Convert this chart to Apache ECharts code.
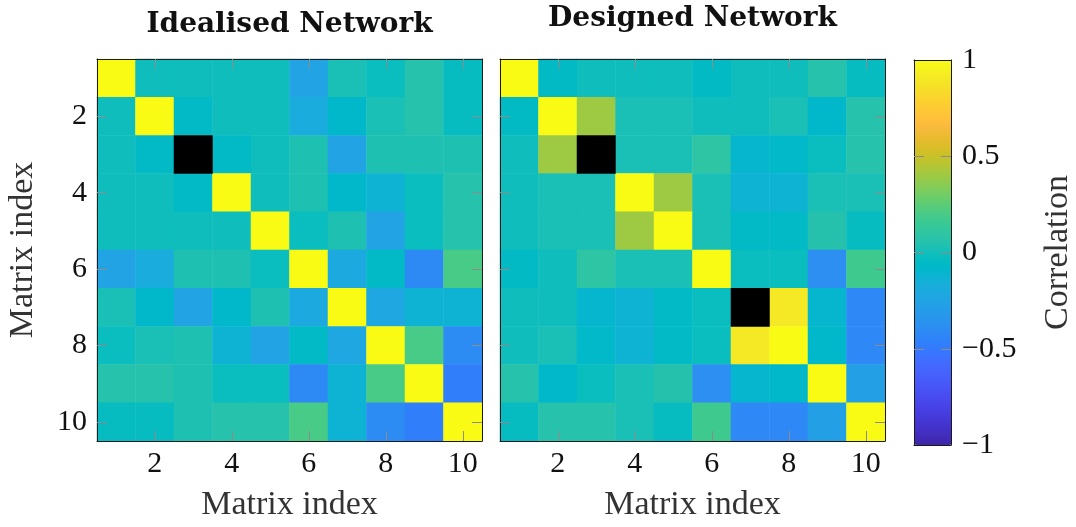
<!DOCTYPE html>
<html>
<head>
<meta charset="utf-8">
<script src="https://cdn.jsdelivr.net/npm/echarts@6/dist/echarts.min.js"></script>
<style>
  html, body { margin: 0; padding: 0; background: #ffffff; }
  #chart { width: 1076px; height: 527px; }
</style>
</head>
<body>
<div id="chart"></div>
<script>
// Matrix indices (1..10) along both axes; only the even ones carry labels.
const indices = ['1', '2', '3', '4', '5', '6', '7', '8', '9', '10'];
const labelledIndices = ['2', '4', '6', '8', '10'];

// Correlation matrices, row by row (row 1 at the top). null marks an undefined entry.
const idealised = [
  [ 1.00, -0.01, -0.01, -0.01, -0.01, -0.25,  0.02, -0.02,  0.06, -0.03],
  [-0.01,  1.00, -0.06, -0.01, -0.01, -0.18, -0.08,  0.02,  0.06, -0.03],
  [-0.01, -0.06,  null, -0.06, -0.01,  0.03, -0.25,  0.03,  0.03,  0.03],
  [-0.01, -0.01, -0.06,  1.00, -0.01,  0.03, -0.08, -0.13, -0.02,  0.06],
  [-0.01, -0.01, -0.01, -0.01,  1.00, -0.02,  0.03, -0.25, -0.02,  0.06],
  [-0.25, -0.18,  0.03,  0.03, -0.02,  1.00, -0.21, -0.06, -0.41,  0.20],
  [ 0.02, -0.08, -0.25, -0.08,  0.03, -0.21,  1.00, -0.22, -0.13, -0.13],
  [-0.02,  0.02,  0.03, -0.13, -0.25, -0.06, -0.22,  1.00,  0.20, -0.40],
  [ 0.06,  0.06,  0.03, -0.02, -0.02, -0.41, -0.13,  0.20,  1.00, -0.48],
  [-0.03, -0.03,  0.03,  0.06,  0.06,  0.20, -0.13, -0.40, -0.48,  1.00]
];

const designed = [
  [ 1.00, -0.05, -0.01, -0.01, -0.01, -0.05, -0.01, -0.01,  0.06, -0.03],
  [-0.05,  1.00,  0.40,  0.02,  0.02, -0.01, -0.01,  0.02, -0.08,  0.06],
  [-0.01,  0.40,  null,  0.02,  0.02,  0.09, -0.10, -0.07, -0.02,  0.06],
  [-0.01,  0.02,  0.02,  1.00,  0.40,  0.02, -0.13, -0.13,  0.02,  0.02],
  [-0.01,  0.02,  0.02,  0.40,  1.00,  0.02, -0.06, -0.06,  0.05, -0.03],
  [-0.05, -0.01,  0.09,  0.02,  0.02,  1.00, -0.02, -0.02, -0.38,  0.17],
  [-0.01, -0.01, -0.10, -0.13, -0.06, -0.02,  null,  0.90, -0.10, -0.42],
  [-0.01,  0.02, -0.07, -0.13, -0.06, -0.02,  0.90,  1.00, -0.08, -0.42],
  [ 0.06, -0.08, -0.02,  0.02,  0.05, -0.38, -0.10, -0.08,  1.00, -0.27],
  [-0.03,  0.06,  0.06,  0.02, -0.03,  0.17, -0.42, -0.42, -0.27,  1.00]
];

const titles = ['Idealised Network', 'Designed Network'];
const axisName = 'Matrix index';
const colorbarName = 'Correlation';
const colorbarTicks = [-1, -0.5, 0, 0.5, 1];

// Parula colour map (64 entries, low to high).
const parula = [
  [0.2422,0.1504,0.6603],[0.2504,0.1650,0.7076],[0.2578,0.1818,0.7511],[0.2647,0.1978,0.7952],
  [0.2706,0.2147,0.8364],[0.2751,0.2342,0.8710],[0.2783,0.2559,0.8991],[0.2803,0.2782,0.9221],
  [0.2813,0.3006,0.9414],[0.2810,0.3228,0.9579],[0.2795,0.3447,0.9717],[0.2760,0.3667,0.9829],
  [0.2699,0.3892,0.9906],[0.2602,0.4123,0.9952],[0.2440,0.4358,0.9988],[0.2206,0.4603,0.9973],
  [0.1963,0.4847,0.9892],[0.1834,0.5074,0.9798],[0.1786,0.5289,0.9682],[0.1764,0.5499,0.9520],
  [0.1687,0.5703,0.9359],[0.1540,0.5902,0.9218],[0.1460,0.6091,0.9079],[0.1380,0.6276,0.8973],
  [0.1248,0.6459,0.8883],[0.1113,0.6635,0.8763],[0.0952,0.6798,0.8598],[0.0689,0.6948,0.8394],
  [0.0297,0.7082,0.8163],[0.0036,0.7203,0.7917],[0.0067,0.7312,0.7660],[0.0433,0.7411,0.7394],
  [0.0964,0.7500,0.7120],[0.1408,0.7584,0.6842],[0.1717,0.7670,0.6554],[0.1938,0.7758,0.6251],
  [0.2161,0.7843,0.5923],[0.2470,0.7918,0.5567],[0.2906,0.7973,0.5188],[0.3406,0.8008,0.4789],
  [0.3909,0.8029,0.4354],[0.4456,0.8024,0.3909],[0.5044,0.7993,0.3480],[0.5616,0.7942,0.3045],
  [0.6174,0.7876,0.2612],[0.6720,0.7793,0.2227],[0.7242,0.7698,0.1910],[0.7738,0.7598,0.1646],
  [0.8203,0.7498,0.1535],[0.8634,0.7406,0.1596],[0.9035,0.7330,0.1774],[0.9393,0.7288,0.2100],
  [0.9728,0.7298,0.2394],[0.9956,0.7434,0.2371],[0.9970,0.7659,0.2199],[0.9952,0.7893,0.2028],
  [0.9892,0.8136,0.1885],[0.9786,0.8386,0.1766],[0.9676,0.8639,0.1643],[0.9610,0.8890,0.1537],
  [0.9597,0.9135,0.1423],[0.9628,0.9373,0.1265],[0.9691,0.9606,0.1064],[0.9769,0.9839,0.0805]
];
const parulaColors = parula.map(c =>
  'rgb(' + c.map(v => Math.round(v * 255)).join(',') + ')');

// Split a matrix into [x, y, value] cells plus the undefined cells.
function toCells(matrix) {
  const cells = [], missing = [];
  matrix.forEach((row, r) => row.forEach((v, c) => {
    if (v === null) missing.push([c, r, 0]);
    else cells.push([c, r, v]);
  }));
  return { cells, missing };
}

const serif = 'Liberation Serif';
const tickStyle = { color: '#8c8c8c', width: 1 };
const frameStyle = { color: '#1a1a1a', width: 1 };
const evenOnly = (i) => labelledIndices.indexOf(indices[i]) >= 0;

const grids = [
  { left: 97, top: 59, width: 385, height: 386 },
  { left: 500, top: 59, width: 385, height: 386 },
  { left: 914, top: 60, width: 38, height: 385 }
];

const xAxes = [], yAxes = [];
[0, 1].forEach(g => {
  const common = {
    type: 'category', data: indices, gridIndex: g, z: 5,
    splitLine: { show: false },
    axisLine: { show: true, onZero: false, lineStyle: frameStyle },
    axisTick: { show: true, inside: true, alignWithLabel: true, interval: evenOnly,
                length: 10, lineStyle: tickStyle }
  };
  xAxes.push(Object.assign({}, common, {
    position: 'bottom',
    axisLabel: { show: true, interval: evenOnly, margin: 8,
                 fontFamily: serif, fontSize: 30, color: '#111' },
    name: axisName, nameLocation: 'middle', nameGap: 47,
    nameTextStyle: { fontFamily: serif, fontSize: 34, color: '#333' }
  }));
  xAxes.push(Object.assign({}, common, {
    position: 'top',
    axisLabel: { show: false },
    name: titles[g], nameLocation: 'middle', nameGap: g === 0 ? 20 : 26,
    nameTextStyle: { fontFamily: 'DejaVu Serif', fontWeight: 'bold',
                     fontSize: 28, color: '#111' }
  }));
  yAxes.push(Object.assign({}, common, {
    position: 'left', inverse: true,
    axisLabel: { show: g === 0, interval: evenOnly, margin: 10,
                 fontFamily: serif, fontSize: 30, color: '#111' },
    name: g === 0 ? axisName : '', nameLocation: 'middle', nameGap: 57,
    nameTextStyle: { fontFamily: serif, fontSize: 34, color: '#333' }
  }));
  yAxes.push(Object.assign({}, common, {
    position: 'right', inverse: true,
    axisLabel: { show: false }
  }));
});

// Colour bar frame, ticks and labels.
const cbFrame = {
  type: 'value', gridIndex: 2, min: 0, max: 1, z: 6,
  axisLine: { show: true, onZero: false, lineStyle: frameStyle },
  axisTick: { show: false }, axisLabel: { show: false }, splitLine: { show: false }
};
xAxes.push(Object.assign({}, cbFrame, { position: 'bottom' }));
xAxes.push(Object.assign({}, cbFrame, { position: 'top' }));
const cbAxis = {
  type: 'value', gridIndex: 2, min: colorbarTicks[0],
  max: colorbarTicks[colorbarTicks.length - 1], interval: 0.5, z: 5,
  splitLine: { show: false },
  axisLine: { show: true, onZero: false, lineStyle: frameStyle },
  axisTick: { show: true, inside: true, length: 10, lineStyle: tickStyle }
};
yAxes.push(Object.assign({}, cbAxis, { position: 'left', axisLabel: { show: false } }));
yAxes.push(Object.assign({}, cbAxis, {
  position: 'right',
  axisLabel: { show: true, margin: 11, fontFamily: serif, fontSize: 30, color: '#111',
               formatter: v => String(v).replace('-', '\u2212') },
  name: colorbarName, nameLocation: 'middle', nameGap: 90,
  nameTextStyle: { fontFamily: serif, fontSize: 34, color: '#333' }
}));

const ideal = toCells(idealised);
const design = toCells(designed);

const series = [
  { type: 'heatmap', xAxisIndex: 0, yAxisIndex: 0, data: ideal.cells },
  { type: 'heatmap', xAxisIndex: 2, yAxisIndex: 2, data: design.cells },
  { type: 'heatmap', xAxisIndex: 0, yAxisIndex: 0, data: ideal.missing,
    itemStyle: { color: '#000000' } },
  { type: 'heatmap', xAxisIndex: 2, yAxisIndex: 2, data: design.missing,
    itemStyle: { color: '#000000' } }
].map(s => Object.assign({ emphasis: { disabled: true }, silent: true, progressive: 0 }, s));

const chart = echarts.init(document.getElementById('chart'), null, { renderer: 'canvas' });
chart.setOption({
  animation: false,
  backgroundColor: '#ffffff',
  grid: grids,
  xAxis: xAxes,
  yAxis: yAxes,
  visualMap: {
    type: 'continuous', seriesIndex: [0, 1], dimension: 2,
    min: colorbarTicks[0], max: colorbarTicks[colorbarTicks.length - 1],
    calculable: false, hoverLink: false, realtime: false,
    orient: 'vertical', left: 914, top: 60, padding: 0,
    itemWidth: 38, itemHeight: 385,
    inRange: { color: parulaColors }
  },
  series: series
});
</script>
</body>
</html>
